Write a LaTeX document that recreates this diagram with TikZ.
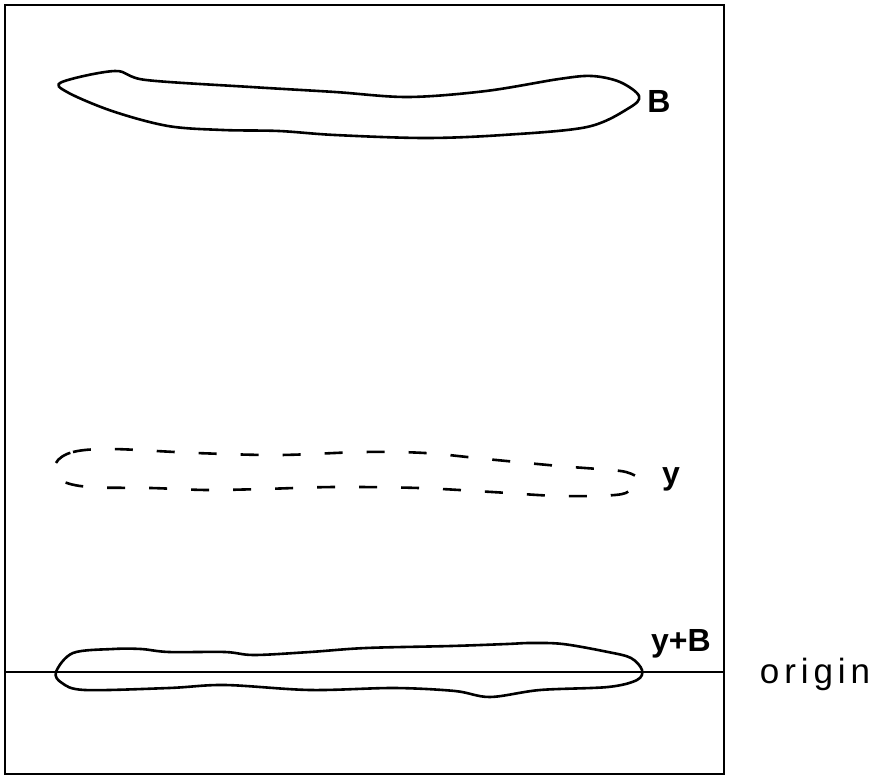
\documentclass[tikz,border=0pt]{standalone}
\usepackage{fontspec}
\setmainfont{Liberation Sans}
\newfontfamily\spacedfont[LetterSpace=14]{Liberation Sans}
\tikzset{
  lbl/.style={font=\fontsize{16}{19}\selectfont\bfseries, inner sep=0pt}
}
\begin{document}
\begin{tikzpicture}[x=0.5pt, y=-0.5pt]

    \useasboundingbox (0,0) rectangle (879,777);

    % Frame
    \draw[line width=1pt] (5,5) rectangle (724,774);

    % Origin line
    \draw[line width=1pt] (5,672) -- (724,672);

    % Spot B
    \draw[line width=1.3pt] plot[smooth cycle, tension=0.55] coordinates {
      (62,82) (115,71) (146,80) (251,87) (335,92) (408,97) (486,91)
      (559,79) (592,76) (620,82) (639,96) (629,108) (587,127) (503,135)
      (425,138) (335,135) (279,131) (223,130) (168,126) (112,111) (67,92)};

    % Spot y
    \draw[line width=1.3pt, dash pattern=on 9pt off 12pt] plot[smooth cycle, tension=0.55] coordinates {
      (56,463) (73,452) (112,449) (196,453) (279,455) (363,452) (425,453)
      (486,459) (559,466) (598,469) (626,472) (640,480) (631,490) (615,495)
      (559,496) (492,492) (419,488) (335,487) (263,489) (207,490) (151,488)
      (89,487) (61,480)};

    % Spot y+B
    \draw[line width=1.3pt] plot[smooth cycle, tension=0.55] coordinates {
      (56,672) (73,653) (113,649) (141,649) (169,652) (225,652) (254,655)
      (310,652) (366,648) (451,646) (507,644) (530,643) (563,644) (608,652)
      (631,658) (642,670) (637,680) (608,687) (540,690) (490,697) (455,691)
      (394,688) (310,690) (225,685) (169,688) (85,690) (62,683)};

    % Labels
    \node[lbl] (labB) at (659,101) {B};
    \node[lbl] (laby) at (671,479) {y};
    \node[lbl] (labyB) at (681,644) {y+B};
    \node[inner sep=0pt, font=\fontsize{17.5}{20}\spacedfont] (laborigin) at (815,674) {origin};

\end{tikzpicture}
\end{document}
